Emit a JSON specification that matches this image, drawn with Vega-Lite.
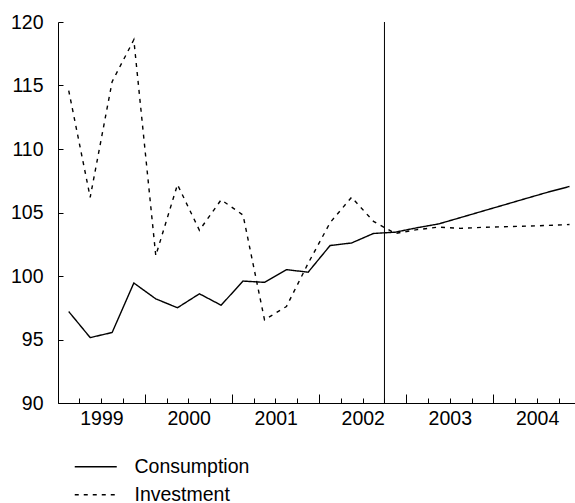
{
  "$schema": "https://vega.github.io/schema/vega-lite/v6.json",
  "autosize": {"type": "none"},
  "width": 517,
  "height": 381,
  "padding": {"left": 58, "top": 22, "right": 0, "bottom": 100},
  "background": "white",
  "config": {
    "view": {"stroke": null},
    "font": "Liberation Sans",
    "axis": {"grid": false, "domainColor": "black", "tickColor": "black", "labelColor": "black", "labelFont": "Liberation Sans", "labelFontSize": 19.5, "title": null, "domainWidth": 1, "tickWidth": 1},
    "legend": {"labelFont": "Liberation Sans", "labelFontSize": 19.5, "labelColor": "black"}
  },
  "data": {
    "values": [
      {"date": "1999-02-15", "series": "Consumption", "value": 97.2},
      {"date": "1999-05-16", "series": "Consumption", "value": 95.15},
      {"date": "1999-08-16", "series": "Consumption", "value": 95.55},
      {"date": "1999-11-15", "series": "Consumption", "value": 99.45},
      {"date": "2000-02-15", "series": "Consumption", "value": 98.2},
      {"date": "2000-05-16", "series": "Consumption", "value": 97.5},
      {"date": "2000-08-16", "series": "Consumption", "value": 98.6},
      {"date": "2000-11-15", "series": "Consumption", "value": 97.7},
      {"date": "2001-02-15", "series": "Consumption", "value": 99.6},
      {"date": "2001-05-16", "series": "Consumption", "value": 99.5},
      {"date": "2001-08-16", "series": "Consumption", "value": 100.5},
      {"date": "2001-11-15", "series": "Consumption", "value": 100.3},
      {"date": "2002-02-15", "series": "Consumption", "value": 102.4},
      {"date": "2002-05-16", "series": "Consumption", "value": 102.6},
      {"date": "2002-08-16", "series": "Consumption", "value": 103.35},
      {"date": "2002-11-15", "series": "Consumption", "value": 103.45},
      {"date": "2003-02-15", "series": "Consumption", "value": 103.8},
      {"date": "2003-05-16", "series": "Consumption", "value": 104.1},
      {"date": "2003-08-16", "series": "Consumption", "value": 104.6},
      {"date": "2003-11-15", "series": "Consumption", "value": 105.1},
      {"date": "2004-02-15", "series": "Consumption", "value": 105.6},
      {"date": "2004-05-16", "series": "Consumption", "value": 106.1},
      {"date": "2004-08-16", "series": "Consumption", "value": 106.6},
      {"date": "2004-11-15", "series": "Consumption", "value": 107.05},
      {"date": "1999-02-15", "series": "Investment", "value": 114.6},
      {"date": "1999-05-16", "series": "Investment", "value": 106.2},
      {"date": "1999-08-16", "series": "Investment", "value": 115.3},
      {"date": "1999-11-15", "series": "Investment", "value": 118.6},
      {"date": "2000-02-15", "series": "Investment", "value": 101.6},
      {"date": "2000-05-16", "series": "Investment", "value": 107.2},
      {"date": "2000-08-16", "series": "Investment", "value": 103.6},
      {"date": "2000-11-15", "series": "Investment", "value": 106.0},
      {"date": "2001-02-15", "series": "Investment", "value": 104.8},
      {"date": "2001-05-16", "series": "Investment", "value": 96.55},
      {"date": "2001-08-16", "series": "Investment", "value": 97.6},
      {"date": "2001-11-15", "series": "Investment", "value": 101.0},
      {"date": "2002-02-15", "series": "Investment", "value": 104.2},
      {"date": "2002-05-16", "series": "Investment", "value": 106.2},
      {"date": "2002-08-16", "series": "Investment", "value": 104.3},
      {"date": "2002-11-15", "series": "Investment", "value": 103.35},
      {"date": "2003-02-15", "series": "Investment", "value": 103.65},
      {"date": "2003-05-16", "series": "Investment", "value": 103.85},
      {"date": "2003-08-16", "series": "Investment", "value": 103.75},
      {"date": "2003-11-15", "series": "Investment", "value": 103.83},
      {"date": "2004-02-15", "series": "Investment", "value": 103.88},
      {"date": "2004-05-16", "series": "Investment", "value": 103.93},
      {"date": "2004-08-16", "series": "Investment", "value": 103.98},
      {"date": "2004-11-15", "series": "Investment", "value": 104.05}
    ]
  },
  "resolve": {"axis": {"x": "independent"}},
  "layer": [
    {
      "mark": {"type": "line", "color": "black", "strokeWidth": 1.4},
      "encoding": {
        "x": {
          "field": "date", "type": "temporal",
          "scale": {"type": "utc", "domain": [{"year": 1999, "month": 1, "date": 1, "utc": true}, {"year": 2004, "month": 12, "date": 8, "utc": true}], "nice": false},
          "axis": {
            "orient": "bottom",
            "values": [
              {"year": 1999, "month": 1, "date": 1, "utc": true}, {"year": 1999, "month": 4, "date": 1, "utc": true}, {"year": 1999, "month": 7, "date": 1, "utc": true}, {"year": 1999, "month": 10, "date": 1, "utc": true},
              {"year": 2000, "month": 1, "date": 1, "utc": true}, {"year": 2000, "month": 4, "date": 1, "utc": true}, {"year": 2000, "month": 7, "date": 1, "utc": true}, {"year": 2000, "month": 10, "date": 1, "utc": true},
              {"year": 2001, "month": 1, "date": 1, "utc": true}, {"year": 2001, "month": 4, "date": 1, "utc": true}, {"year": 2001, "month": 7, "date": 1, "utc": true}, {"year": 2001, "month": 10, "date": 1, "utc": true},
              {"year": 2002, "month": 1, "date": 1, "utc": true}, {"year": 2002, "month": 4, "date": 1, "utc": true}, {"year": 2002, "month": 7, "date": 1, "utc": true}, {"year": 2002, "month": 10, "date": 1, "utc": true},
              {"year": 2003, "month": 1, "date": 1, "utc": true}, {"year": 2003, "month": 4, "date": 1, "utc": true}, {"year": 2003, "month": 7, "date": 1, "utc": true}, {"year": 2003, "month": 10, "date": 1, "utc": true},
              {"year": 2004, "month": 1, "date": 1, "utc": true}, {"year": 2004, "month": 4, "date": 1, "utc": true}, {"year": 2004, "month": 7, "date": 1, "utc": true}, {"year": 2004, "month": 10, "date": 1, "utc": true}
            ],
            "labels": false,
            "tickSize": {"condition": {"test": "utcmonth(datum.value) == 0", "value": -9}, "value": -5}
          }
        },
        "y": {
          "field": "value", "type": "quantitative",
          "scale": {"domain": [90, 120], "nice": false, "zero": false},
          "axis": {"values": [90, 95, 100, 105, 110, 115, 120], "tickSize": -5, "labelPadding": 20}
        },
        "strokeDash": {
          "field": "series", "type": "nominal",
          "scale": {"domain": ["Consumption", "Investment"], "range": [[1, 0], [4, 5]]},
          "legend": {
            "orient": "none", "legendX": 28, "legendY": 435, "title": null,
            "symbolType": "M-3,0H3", "symbolSize": 196, "symbolStrokeWidth": 1.4, "symbolStrokeColor": "black",
            "labelOffset": 29, "rowPadding": 7, "padding": 0
          }
        }
      }
    },
    {
      "data": {"values": [{"date": "2002-10-01"}]},
      "mark": {"type": "rule", "color": "black", "strokeWidth": 1},
      "encoding": {
        "x": {
          "field": "date", "type": "temporal",
          "axis": {
            "orient": "bottom", "domain": false, "ticks": false, "labelPadding": 6, "format": "%Y",
            "values": [{"year": 1999, "month": 7, "date": 2, "utc": true}, {"year": 2000, "month": 7, "date": 2, "utc": true}, {"year": 2001, "month": 7, "date": 2, "utc": true}, {"year": 2002, "month": 7, "date": 2, "utc": true}, {"year": 2003, "month": 7, "date": 2, "utc": true}, {"year": 2004, "month": 7, "date": 2, "utc": true}]
          }
        }
      }
    }
  ]
}
